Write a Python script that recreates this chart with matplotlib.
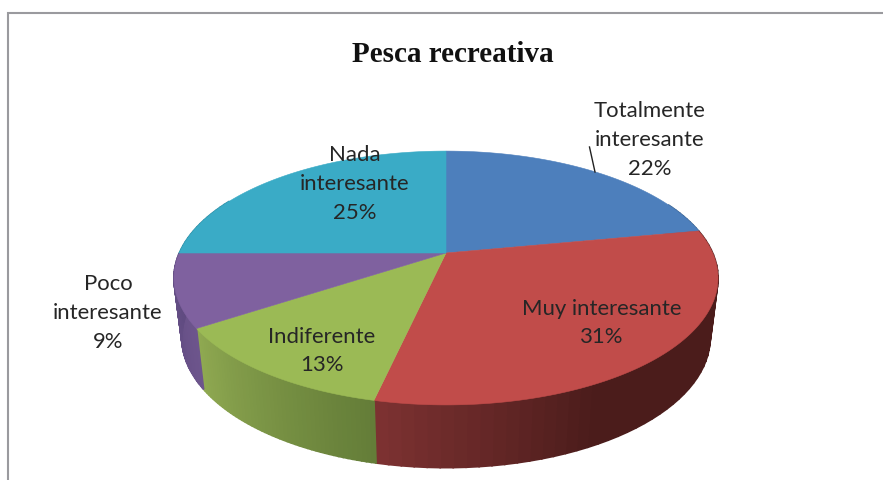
import numpy as np
import matplotlib
matplotlib.use("Agg")
import matplotlib.pyplot as plt
from matplotlib.colors import to_rgb

title = "Pesca recreativa"
names = ["Totalmente\ninteresante", "Muy interesante", "Indiferente", "Poco\ninteresante", "Nada\ninteresante"]
percent_labels = ["22%", "31%", "13%", "9%", "25%"]
values = [22.0, 31.5, 12.2, 9.3, 25.0]

top_colors = ["#4d7fbc", "#c14c4a", "#9bba55", "#7f619f", "#3aabc6"]
side_start = ["#2f4f75", "#4b1c1b", "#647d38", "#6d558c", "#2c8aa0"]
side_end = ["#3b6391", "#7c3131", "#8fa951", "#5f4a80", "#2c8aa0"]
side_knee = [0.0, 0.65, 0.0, 0.0, 0.0]

label_x = [650, 602, 322, 108, 355]
label_y = [140, 323, 351, 313, 184]

# perspective of the pie, in picture pixels
cx = 446
top_cy, top_a, top_b = 253, 122, 266.7
bottom_cy, bottom_a, bottom_b = 312, 125, 259
k = 0.197


def project(theta, cy, a, b, r=1.0):
    x = r * np.sin(theta)
    y = r * np.cos(theta)
    w = 1 + k * y
    return cx + b * x / w, cy - a * y / w


fig = plt.figure(figsize=(8.83, 4.8), dpi=100)
ax = fig.add_axes([0, 0, 1, 1])
ax.set_xlim(0, 883)
ax.set_ylim(480, 0)
ax.axis("off")

edges = np.radians(np.concatenate([[0], np.cumsum(values)]) * 360 / np.sum(values))

# side wall first, strip by strip for the shading
for i in range(len(values)):
    th = np.linspace(edges[i], edges[i + 1], 50)
    for j in range(len(th) - 1):
        if np.cos(th[j]) > 0.45:
            continue
        frac = j / (len(th) - 2)
        t = max(frac - side_knee[i], 0) / (1 - side_knee[i])
        c = (1 - t) * np.array(to_rgb(side_start[i])) + t * np.array(to_rgb(side_end[i]))
        pair = np.array([th[j], th[j + 1]])
        x1, y1 = project(pair, top_cy, top_a, top_b)
        x2, y2 = project(pair[::-1], bottom_cy, bottom_a, bottom_b)
        ax.fill(np.r_[x1, x2], np.r_[y1, y2], color=c, lw=1.2)

# top face
for i in range(len(values)):
    th = np.linspace(edges[i], edges[i + 1], 120)
    x, y = project(th, top_cy, top_a, top_b)
    ax.fill(np.r_[cx, x], np.r_[top_cy, y], color=top_colors[i], lw=0.4)

# chart frame
ax.plot([8, 8, 883], [480, 13, 13], color="#9a9a9e", lw=1.5, solid_joinstyle="miter")

ax.plot([589.5, 595], [147, 172], color="#222222", lw=1)

ax.text(453, 54, title, family="Liberation Serif", weight="bold", fontsize=21,
        color="#111111", ha="center", va="center")

for i in range(len(names)):
    ax.text(label_x[i], label_y[i], names[i] + "\n" + percent_labels[i], family="Lato", fontsize=15.9,
            color="#262626", ha="center", va="center", linespacing=1.56)

fig.savefig("out.png", dpi=100)
